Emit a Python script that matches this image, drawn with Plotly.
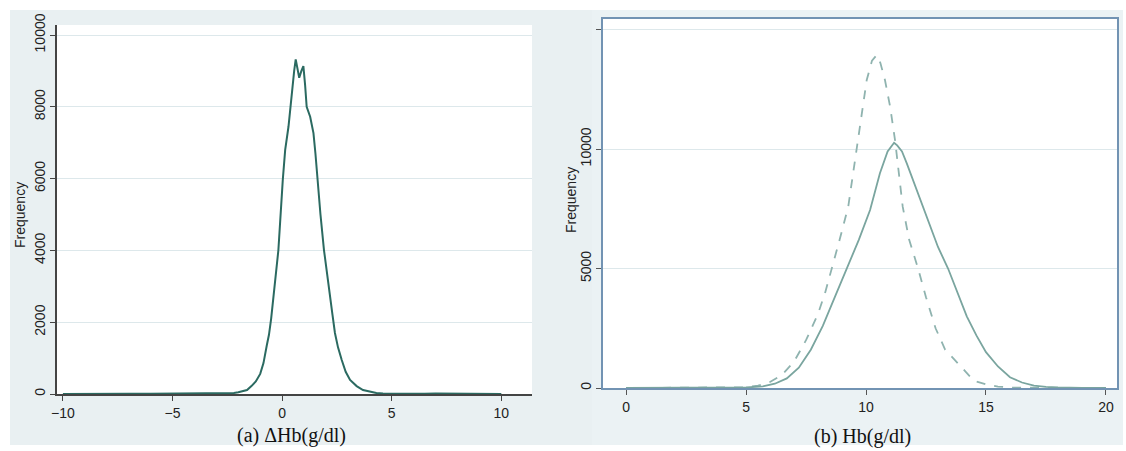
import plotly.graph_objects as go

W, H = 1126, 451

# (a) Delta Hb frequency polygon
dhb_x = [-10, -9, -8.5, -8, -7.5, -7, -6, -5, -4, -3, -2.5, -2.2, -2.0, -1.8, -1.6, -1.4, -1.2, -1.0,
         -0.85, -0.7, -0.6, -0.5, -0.4, -0.3, -0.17, 0.03, 0.14, 0.29, 0.44, 0.55, 0.62, 0.7, 0.78,
         0.88, 0.97, 1.05, 1.12, 1.28, 1.43, 1.52, 1.61, 1.75, 1.91, 2.05, 2.19, 2.3, 2.41, 2.55,
         2.72, 2.9, 3.1, 3.4, 3.69, 4.0, 4.3, 4.6, 5, 5.5, 6, 6.5, 7, 8, 9, 10]
dhb_y = [0, 5, 15, 5, 20, 10, 5, 10, 12, 15, 20, 28, 50, 80, 111, 220, 350, 560,
         860, 1350, 1650, 2100, 2700, 3300, 4011, 5960, 6800, 7445, 8470, 9000, 9323, 9050, 8810,
         9000, 9136, 8600, 8003, 7724, 7270, 6700, 5960, 5000, 4011, 3400, 2813, 2200, 1700, 1300,
         947, 620, 390, 220, 111, 60, 28, 15, 10, 8, 15, 5, 12, 8, 5, 0]

# (b) Hb frequency polygons
hb_solid_x = [0, 1, 2, 3, 4, 5, 5.7, 6.2, 6.7, 7.2, 7.7, 8.2, 8.7, 9.2, 9.7, 10.17, 10.58, 10.9, 11.1,
              11.17, 11.3, 11.5, 11.7, 12.0, 12.32, 12.7, 13.0, 13.42, 13.8, 14.2, 14.6, 15, 15.5, 16,
              16.5, 17, 17.5, 18, 19, 20]
hb_solid_y = [0, 0, 5, 8, 12, 20, 70, 180, 400, 850, 1600, 2600, 3800, 5000, 6200, 7448, 8983,
              9900, 10200, 10264, 10150, 9900, 9400, 8600, 7728, 6700, 5900, 5000, 4000, 3000, 2200,
              1500, 900, 450, 230, 100, 50, 20, 5, 0]
hb_dash_x = [0, 1, 2, 3, 4, 5, 5.5, 6, 6.5, 7, 7.5, 8, 8.3, 8.58, 8.9, 9.26, 9.61, 10.03, 10.25, 10.45,
             10.6, 10.79, 11.0, 11.21, 11.53, 11.8, 12.17, 12.5, 12.9, 13.3, 13.9, 14.5, 15, 15.5, 16,
             17, 18, 20]
hb_dash_y = [0, 0, 5, 10, 15, 30, 100, 250, 550, 1100, 2000, 3100, 4000, 5000, 6200, 7586, 10096, 12887,
             13700, 13933, 13600, 12887, 11800, 10377, 7586, 6200, 5000, 3800, 2500, 1600, 960, 300,
             150, 60, 20, 5, 0, 0]

left_ticks = [0, 2000, 4000, 6000, 8000, 10000]
left_ticktext = ["0", "2000", "4000", "6000", "8000", "10000"]
right_ticks = [0, 5000, 10000, 15000]
right_ticktext = ["0", "5000", "10000", ""]

BG = "#e9f0f2"
GRID = "#dde8eb"
FRAME = "#7293b3"


def px(x):
    return x / W


def py(y):
    return 1 - y / H


fig = go.Figure()
fig.add_trace(go.Scatter(x=dhb_x, y=dhb_y, mode="lines", line=dict(color="#2b6a61", width=2),
                         xaxis="x", yaxis="y", showlegend=False, hoverinfo="skip"))
fig.add_trace(go.Scatter(x=hb_dash_x, y=hb_dash_y, mode="lines",
                         line=dict(color="#8fb3af", width=1.8, dash="dash"),
                         xaxis="x2", yaxis="y2", showlegend=False, hoverinfo="skip"))
fig.add_trace(go.Scatter(x=hb_solid_x, y=hb_solid_y, mode="lines", line=dict(color="#7aa59f", width=1.8),
                         xaxis="x2", yaxis="y2", showlegend=False, hoverinfo="skip"))

tickfont = dict(family="Liberation Sans, Arial", size=14, color="#222")

L = dict(x0=57, x1=532, y0=25, y1=394)
R = dict(x0=603, x1=1117, y0=19, y1=388)


def ann(text, x, y, font, angle=0):
    return dict(text=text, x=px(x), y=py(y), xref="paper", yref="paper", textangle=angle,
                xanchor="center", yanchor="middle", showarrow=False, font=font)


sans = dict(family="Liberation Sans, Arial", size=14, color="#222")
serif = dict(family="Liberation Serif, Times New Roman", size=20, color="#111")

fig.update_layout(
    width=W, height=H, margin=dict(l=0, r=0, t=0, b=0, autoexpand=False),
    paper_bgcolor="white", plot_bgcolor="white",
    xaxis=dict(domain=[px(L["x0"]), px(L["x1"])], range=[-10.27, 11.4], tickvals=[-10, -5, 0, 5, 10],
               ticks="outside", ticklen=5, tickcolor="#444", showline=True, linecolor="#444",
               linewidth=1.5, showgrid=False, zeroline=False, tickfont=tickfont, anchor="y",
               automargin=False),
    yaxis=dict(domain=[py(L["y1"]), py(L["y0"])], range=[0, 10280], tickvals=left_ticks,
               ticktext=left_ticktext, tickangle=-90,
               ticks="outside", ticklen=5, tickcolor="#444", showline=True, linecolor="#444",
               linewidth=1.5, showgrid=True, gridcolor=GRID, zeroline=False, tickfont=tickfont,
               anchor="x", automargin=False),
    xaxis2=dict(domain=[px(R["x0"]), px(R["x1"])], range=[-0.96, 20.46], tickvals=[0, 5, 10, 15, 20],
                ticks="outside", ticklen=5, tickcolor="#555", showline=True, linecolor=FRAME,
                linewidth=1.5, mirror=True, showgrid=False, zeroline=False, tickfont=tickfont,
                anchor="y2", automargin=False),
    yaxis2=dict(domain=[py(R["y1"]), py(R["y0"])], range=[0, 15440], tickvals=right_ticks,
                ticktext=right_ticktext,
                tickangle=-90, ticks="outside", ticklen=5, tickcolor="#555", showline=True,
                linecolor=FRAME, linewidth=1.5, mirror=True, showgrid=True, gridcolor=GRID,
                zeroline=False, tickfont=tickfont, anchor="x2", automargin=False),
    shapes=[
        dict(type="rect", xref="paper", yref="paper", x0=px(10), x1=px(592), y0=py(445), y1=py(10),
             fillcolor=BG, line=dict(width=0), layer="below"),
        dict(type="rect", xref="paper", yref="paper", x0=px(592), x1=px(1123), y0=py(445), y1=py(10),
             fillcolor="#ebf2f4", line=dict(width=0), layer="below"),
        dict(type="rect", xref="paper", yref="paper", x0=px(L["x0"]), x1=px(L["x1"]),
             y0=py(L["y1"]), y1=py(L["y0"]), fillcolor="white", line=dict(width=0), layer="below"),
        dict(type="rect", xref="paper", yref="paper", x0=px(R["x0"]), x1=px(R["x1"]),
             y0=py(R["y1"]), y1=py(R["y0"]), fillcolor="white", line=dict(width=0), layer="below"),
    ],
    annotations=[
        ann("Frequency", 20, 215, sans, -90),
        ann("Frequency", 571, 200, sans, -90),
        ann("(a) ΔHb(g/dl)", 291, 435, serif),
        ann("(b) Hb(g/dl)", 862, 436, serif),
    ],
)

fig.write_html("out.html", config={"displayModeBar": False},
               post_script="document.body.style.margin='0px';document.body.style.overflow='hidden';")
